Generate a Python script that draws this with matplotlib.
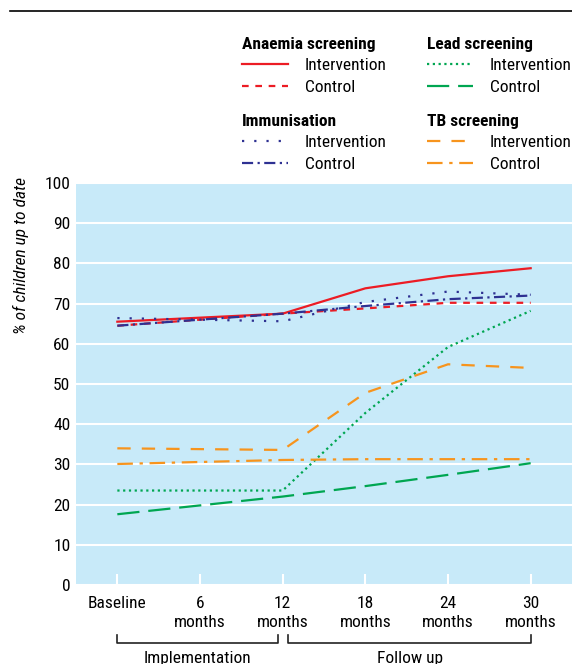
import matplotlib.pyplot as plt
from matplotlib.lines import Line2D
import matplotlib.transforms as mtransforms

plt.rcParams['font.family'] = ['Roboto Condensed', 'DejaVu Sans']

FS = 12.5

# x categories
periods = ["Baseline", "6\nmonths", "12\nmonths", "18\nmonths", "24\nmonths", "30\nmonths"]

# % of children up to date
anaemia_int = [65.5, 66.5, 67.5, 73.8, 76.8, 78.8]
anaemia_ctl = [64.5, 66.0, 67.5, 68.8, 70.2, 70.2]
immun_int = [66.4, 66.0, 65.6, 70.4, 73.0, 72.2]
immun_ctl = [64.5, 66.0, 67.5, 69.4, 71.1, 72.0]
lead_int = [23.5, 23.5, 23.5, 42.8, 59.2, 68.2]
lead_ctl = [17.6, 19.8, 22.0, 24.6, 27.4, 30.3]
tb_int = [34.0, 33.8, 33.6, 47.8, 54.9, 54.0]
tb_ctl = [30.1, 30.6, 31.1, 31.3, 31.3, 31.3]

RED = "#ec1c24"
GREEN = "#00a651"
BLUE = "#2e3192"
ORANGE = "#f7941d"

fig = plt.figure(figsize=(5.72, 6.64), dpi=100)
ax = fig.add_axes([76 / 572, 79 / 664, 496 / 572, 402 / 664])
ax.set_facecolor("#c8eaf9")

x = list(range(len(periods)))
lw = 1.6
l_ai, = ax.plot(x, anaemia_int, color=RED, lw=lw, ls="-")
l_ac, = ax.plot(x, anaemia_ctl, color=RED, lw=lw, ls=(0, (3, 3)))
l_ii, = ax.plot(x, immun_int, color=BLUE, lw=lw, ls=(0, (1, 4.5)))
l_ic, = ax.plot(x, immun_ctl, color=BLUE, lw=lw, ls=(0, (5, 2, 1, 2)))
l_li, = ax.plot(x, lead_int, color=GREEN, lw=lw, ls=(0, (1, 1.6)))
l_lc, = ax.plot(x, lead_ctl, color=GREEN, lw=lw, ls=(0, (10, 4)))
l_ti, = ax.plot(x, tb_int, color=ORANGE, lw=lw, ls=(0, (6, 5)))
l_tc, = ax.plot(x, tb_ctl, color=ORANGE, lw=lw, ls=(0, (7, 3, 1.5, 3)))

ax.set_xlim(-0.5, 5.5)
ax.set_ylim(0, 100)
ax.set_yticks(range(0, 101, 10))
ax.set_xticks(x)
ax.set_xticklabels(periods, fontsize=FS, linespacing=1.35)
ax.tick_params(axis="y", length=0, labelsize=FS, pad=4)
ax.tick_params(axis="x", direction="in", color="white", length=8, width=1.5, pad=8)
ax.grid(axis="y", color="white", lw=1.5)
ax.set_axisbelow(True)
for s in ax.spines.values():
    s.set_visible(False)

fig.text(21 / 572, 1 - 256 / 664, "% of children up to date", rotation=90,
         style="italic", fontsize=FS, ha="center", va="center")

# brackets under x axis
trans = mtransforms.blended_transform_factory(ax.transData, ax.transAxes)
yb, yt = -0.1443, -0.124
for x0, x1, label in [(0, 1.94, "Implementation"), (2.07, 5.0, "Follow up")]:
    ax.plot([x0, x0, x1, x1], [yt, yb, yb, yt], color="#222222", lw=1.2,
            transform=trans, clip_on=False)
    ax.text((x0 + x1) / 2, -0.1816, label, transform=trans, ha="center",
            va="center", fontsize=FS)

# top rule
fig.add_artist(Line2D([10 / 572, 1.0], [1 - 11 / 664, 1 - 11 / 664], color="black", lw=1.2))

# legends
def add_legend(handles, title, xpos, ypos):
    leg = fig.legend(handles, ["Intervention", "Control"], title=title,
                     loc="upper left", bbox_to_anchor=(xpos, ypos), frameon=False,
                     alignment="left", fontsize=FS, handlelength=2.65, handletextpad=0.98,
                     labelspacing=0.4, borderpad=0, borderaxespad=0,
                     title_fontproperties={"weight": "bold", "size": FS})
    leg._legend_box.sep = 4
    return leg

add_legend([l_ai, l_ac], "Anaemia screening", 242 / 572, 1 - 37 / 664)
add_legend([l_ii, l_ic], "Immunisation", 242 / 572, 1 - 114 / 664)
add_legend([l_li, l_lc], "Lead screening", 427 / 572, 1 - 37 / 664)
add_legend([l_ti, l_tc], "TB screening", 427 / 572, 1 - 114 / 664)

fig.savefig("out.png", dpi=100)
